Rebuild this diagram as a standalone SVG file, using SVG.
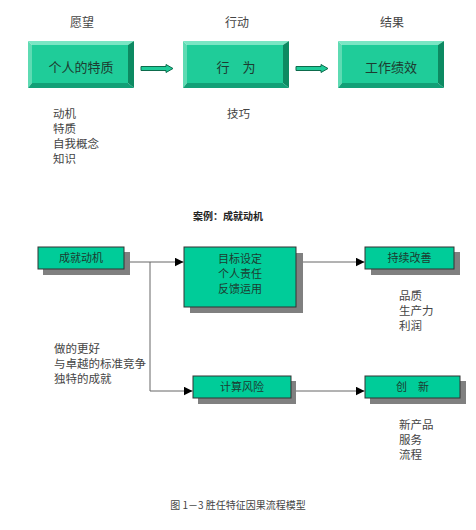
<svg xmlns="http://www.w3.org/2000/svg" width="476" height="530" viewBox="0 0 476 530">
<defs>
<style>
text{font-family:"Noto Sans CJK SC","Noto Sans",sans-serif;fill:#333}
.lbl{font-size:12px;text-anchor:middle;fill:#444}
.bt{font-size:13px;text-anchor:middle;fill:#1d3b30}
.lst{font-size:11.5px;fill:#444}
.sb{font-size:11px;text-anchor:middle;fill:#1d3b30}
.face{fill:#1fcc99}
.bl{fill:#5edbb3}
.bt2{fill:#7ae6c4}
.br{fill:#0d8a62}
.bb{fill:#12a077}
.box{fill:#00cc99;stroke:#333;stroke-width:1}
.sh{fill:#808080}
.ln{fill:none;stroke:#666;stroke-width:1}
.ba{fill:#1fcc99;stroke:#0d6b4c;stroke-width:1}
</style>
<marker id="ah" viewBox="0 0 10 10" refX="10" refY="5" markerWidth="9" markerHeight="9" markerUnits="userSpaceOnUse" orient="auto">
<path d="M0,0 L10,5 L0,10 z" fill="#000"/>
</marker>
<g id="bevel">
<polygon class="bt2" points="0,0 106,0 100,4 4,4"/>
<polygon class="bl" points="0,0 4,4 4,42 0,47"/>
<polygon class="br" points="106,0 106,47 100,42 100,4"/>
<polygon class="bb" points="0,47 106,47 100,42 4,42"/>
<rect class="face" x="4" y="4" width="96" height="38"/>
</g>
</defs>

<text class="lbl" x="82" y="27">愿望</text>
<text class="lbl" x="237" y="27">行动</text>
<text class="lbl" x="392" y="27">结果</text>

<g id="n-trait"><use href="#bevel" x="28" y="41"/><text class="bt" x="81" y="72">个人的特质</text></g>
<g id="n-behave"><use href="#bevel" x="183" y="41"/><text class="bt" x="236" y="72">行　为</text></g>
<g id="n-perf"><use href="#bevel" x="338" y="41"/><text class="bt" x="391" y="72">工作绩效</text></g>

<g id="block-arrows">
<polygon class="ba" points="141,66.5 166,66.5 166,64.5 173,68.5 166,72.5 166,70.5 141,70.5"/>
<polygon class="ba" points="296,66.5 321,66.5 321,64.5 328,68.5 321,72.5 321,70.5 296,70.5"/>
</g>

<text class="lst" x="53" y="118">动机</text>
<text class="lst" x="53" y="133">特质</text>
<text class="lst" x="53" y="148">自我概念</text>
<text class="lst" x="53" y="163">知识</text>
<text class="lst" x="227" y="118">技巧</text>

<text x="228" y="219.5" style="font-size:10px;text-anchor:middle;fill:#222;font-weight:bold">案例：成就动机</text>

<g id="connectors">
<path class="ln" d="M124,262 H183.5" marker-end="url(#ah)"/>
<path class="ln" d="M150,262 V391 H192.5" marker-end="url(#ah)"/>
<path class="ln" d="M296,262 H364.5" marker-end="url(#ah)"/>
<path class="ln" d="M291,391 H364.5" marker-end="url(#ah)"/>
</g>

<g id="n-ach"><rect class="sh" x="43" y="252" width="87" height="23"/><rect class="box" x="38" y="247" width="86" height="22"/><text class="sb" x="81" y="262">成就动机</text></g>
<g id="n-goal"><rect class="sh" x="190" y="253" width="113" height="60"/><rect class="box" x="184" y="247" width="112" height="60"/>
<text class="sb" x="240" y="263">目标设定</text><text class="sb" x="240" y="278">个人责任</text><text class="sb" x="240" y="293">反馈运用</text></g>
<g id="n-improve"><rect class="sh" x="371" y="252" width="89" height="23"/><rect class="box" x="365" y="247" width="89" height="22"/><text class="sb" x="409.5" y="262">持续改善</text></g>
<g id="n-risk"><rect class="sh" x="198" y="381" width="98" height="23"/><rect class="box" x="193" y="376" width="98" height="22"/><text class="sb" x="242" y="391">计算风险</text></g>
<g id="n-innov"><rect class="sh" x="370" y="381" width="96" height="23"/><rect class="box" x="365" y="376" width="95" height="22"/><text class="sb" x="412.5" y="391">创　新</text></g>

<text class="lst" x="399" y="300">品质</text>
<text class="lst" x="399" y="315">生产力</text>
<text class="lst" x="399" y="330">利润</text>

<text class="lst" x="54" y="353">做的更好</text>
<text class="lst" x="54" y="368">与卓越的标准竞争</text>
<text class="lst" x="54" y="383">独特的成就</text>

<text class="lst" x="399" y="429">新产品</text>
<text class="lst" x="399" y="444">服务</text>
<text class="lst" x="399" y="459">流程</text>

<text x="238" y="508.5" style="font-size:10px;text-anchor:middle;fill:#444">图 1－3 胜任特征因果流程模型</text>
</svg>
